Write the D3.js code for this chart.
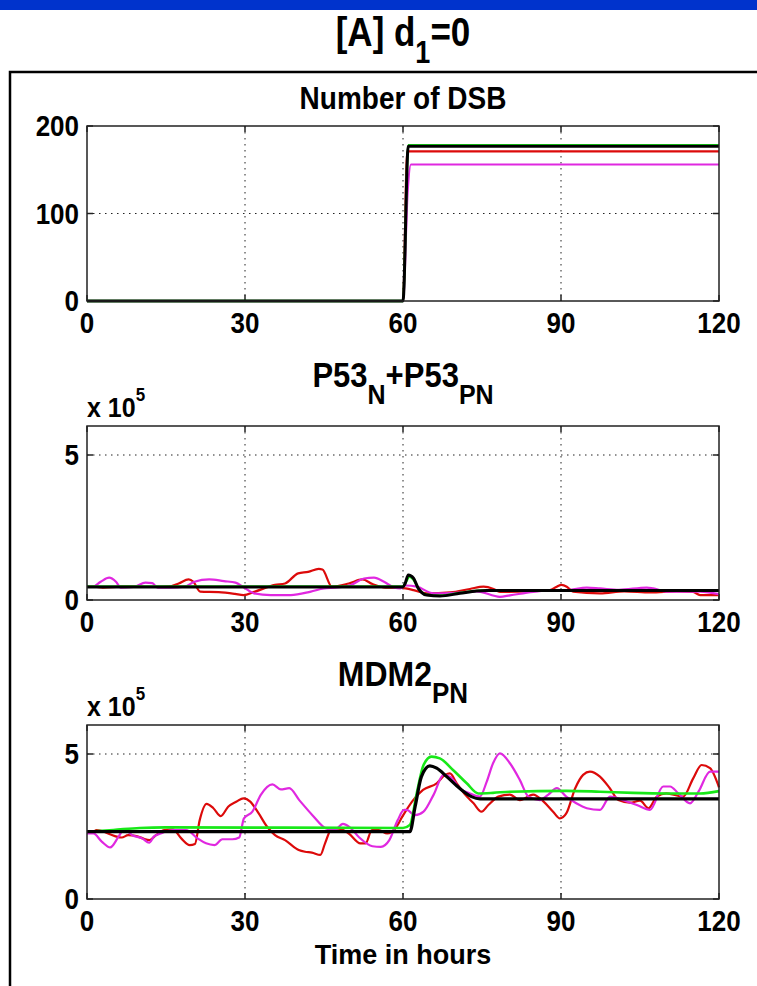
<!DOCTYPE html>
<html><head><meta charset="utf-8">
<script src="https://cdn.jsdelivr.net/npm/d3@7"></script>
<style>html,body{margin:0;padding:0;background:#fff;}svg{display:block;}</style>
</head><body>
<script>
// ---------- DATA ----------
const xTicks = [0, 30, 60, 90, 120];
const dsbTicks = [0, 100, 200];
const expTicks = [0, 5];

// Panel 1: Number of DSB
const dsbRedT = [0, 60, 60.8, 120];
const dsbRedV = [0, 0, 171, 171];
const dsbMagT = [0, 60, 60.9, 61.5, 120];
const dsbMagV = [0, 0, 127, 156, 156];
const dsbGreenT = [0, 60, 61, 120];
const dsbGreenV = [0, 0, 178, 178];
const dsbBlackT = [0, 60, 61, 120];
const dsbBlackV = [0, 0, 177, 177];

// Panel 2: P53_N + P53_PN (x 10^5)
const p53RedT = [0,1.5,3,6.5,9.6,12.5,15.5,17.4,19.3,20.2,21.5,25,28.1,29.7,31.9,35.7,37.6,40.1,42,44,44.7,46.5,49.7,52.3,54.2,56.7,59.6,60.5,62,64.5,69,72.7,75.3,77.2,78.4,84,87.9,89.2,90.1,91.1,92.3,97.4,102,107,112,115.1,116.4,120];
const p53RedV = [0.46,0.46,0.43,0.46,0.46,0.45,0.46,0.57,0.71,0.63,0.29,0.27,0.21,0.17,0.29,0.52,0.57,0.92,0.97,1.07,1.05,0.46,0.57,0.71,0.55,0.43,0.43,0.4,0.34,0.23,0.26,0.38,0.46,0.38,0.28,0.3,0.34,0.46,0.52,0.46,0.29,0.23,0.3,0.26,0.3,0.28,0.17,0.17];
const p53MagT = [0,1.1,2.6,4.2,5.5,6.4,8.9,11.1,12.4,13.4,15.9,18.5,20.4,23.2,26,28.2,29.8,31.7,34.9,38.7,42.5,45,47.6,50.1,52.6,54.5,56.4,58.3,59.5,60.5,62.6,65.8,70,74,78.4,80.3,84.7,87.9,91,94.9,97.4,101,106.3,107.5,110,116.4,120];
const p53MagV = [0.46,0.46,0.63,0.77,0.63,0.43,0.45,0.6,0.58,0.43,0.43,0.46,0.63,0.71,0.65,0.6,0.43,0.23,0.17,0.17,0.29,0.4,0.43,0.52,0.74,0.77,0.63,0.43,0.4,0.5,0.46,0.23,0.25,0.3,0.11,0.16,0.28,0.34,0.34,0.43,0.4,0.35,0.43,0.4,0.29,0.29,0.2];
const p53GreenT = [0,60,60.5,61.2,62,63,64.5,67,71,75,120];
const p53GreenV = [0.47,0.47,0.6,0.8,0.7,0.38,0.18,0.15,0.25,0.33,0.34];
const p53BlackT = [0,60,60.4,61,62,62.9,64.5,67,70.8,74,75.9,120];
const p53BlackV = [0.45,0.45,0.57,0.86,0.75,0.4,0.17,0.14,0.23,0.31,0.33,0.33];

// Panel 3: MDM2_PN (x 10^5)
const mdmRedT = [0,1.2,1.8,5.3,6.6,7.8,9.4,10.6,11.9,13.1,14.7,16.3,17.9,19.5,20.5,21.4,22.7,24,25.4,26.8,28.4,29.7,31,32.6,34.2,35.7,37.6,40.2,41.4,42.7,44.3,45.2,46.5,47.8,49.7,51.9,52.9,54.1,55.4,57,58.6,59.9,61.9,63.8,66.4,68,68.9,70.2,71.8,73.4,74.9,76.2,78.1,80.3,82.2,84.7,86.7,88.5,89.8,91,92.7,94.2,95.5,97.4,99.3,100.9,103.1,105,106.6,108.2,110,113.2,115.1,116.7,118.3,120];
const mdmRedV = [2.32,2.32,2.38,2.17,2.12,2.2,2.17,2.09,2.03,2.2,2.38,2.4,2.09,1.86,1.9,2.72,3.28,3.13,2.86,3.18,3.36,3.47,3.36,2.95,2.49,2.2,2.03,1.69,1.63,1.6,1.52,1.92,2.43,2.43,2.26,1.92,1.92,2.38,2.38,2.26,2.45,2.85,3.4,3.76,3.99,4.28,4.33,3.99,3.6,3.3,3.01,3.24,3.53,3.6,3.41,3.6,3.36,3.01,2.78,2.95,3.82,4.28,4.39,4.22,3.81,3.41,3.32,3.39,3.13,3.53,3.64,3.53,4.16,4.62,4.51,3.85];
const mdmMagT = [0,1.2,2.8,4.4,6,7,8.6,10.5,11.8,12.7,14,16.3,18.8,21,22.6,24.2,25.7,27.6,28.9,29.8,31.4,33,35.2,36.8,38.4,40.3,42.8,45.4,47,48.6,49.8,51.7,54.2,55.8,57.4,59,60.2,60.7,62.3,63.9,65.8,67.7,68.9,70.8,72.7,74.6,75.9,77.1,78.4,80.3,82.2,83.8,86,87.6,89.2,91,92.9,94.9,97.4,99.3,102.5,104.4,106.9,109.4,110.7,112.3,114.5,116.1,118.3,120];
const mdmMagV = [2.26,2.26,1.98,1.78,2.15,2.4,2.2,2.09,1.94,2.15,2.26,2.38,2.38,2.09,1.92,1.86,2.06,2.06,2.12,2.78,3.01,3.59,3.95,3.78,3.82,3.41,2.89,2.43,2.38,2.59,2.49,2.12,1.82,1.8,2.03,2.72,3.07,3.07,2.89,3.01,3.59,4.28,4.22,3.81,3.64,3.53,4.05,4.68,5.02,4.68,4.1,3.53,3.41,3.6,3.82,3.53,3.3,3.13,3.07,3.53,3.36,3.24,3.07,3.88,3.88,3.64,3.3,3.7,4.39,4.39];
const mdmGreenT = [0,5,10,15,60,61.3,62.6,63.9,65.4,67,69.5,72.1,74.3,77.1,80.3,91,97.4,103.7,110,116.4,120];
const mdmGreenV = [2.32,2.38,2.45,2.47,2.45,2.55,3.64,4.62,4.91,4.85,4.45,3.99,3.64,3.66,3.7,3.73,3.7,3.66,3.64,3.64,3.72];
const mdmBlackT = [0,61.3,62.3,63.5,65.1,66.4,68.3,70.8,73,74.6,75.5,120];
const mdmBlackV = [2.32,2.32,3.18,4.22,4.59,4.51,4.22,3.81,3.53,3.45,3.45,3.45];

// ---------- DRAW ----------
const W = 757, H = 986;
const FONT = "'Liberation Sans', Arial, Helvetica, sans-serif";
const C = {red: "#dc0a0a", mag: "#e028e0", green: "#18e818", black: "#000"};
const SY = 1.12; // vertical stretch of the lettering

const svg = d3.select("body").append("svg").attr("width", W).attr("height", H)
  .style("font-family", FONT).style("font-weight", "bold");

svg.append("rect").attr("x", 0).attr("y", 0).attr("width", W).attr("height", H).attr("fill", "#fff");
svg.append("rect").attr("x", 0).attr("y", 0).attr("width", W).attr("height", 10).attr("fill", "#0033cc");

// outer frame (extends beyond the picture right / bottom)
svg.append("path").attr("d", `M10,${H + 10} L10,72 L${W + 10},72`)
  .attr("fill", "none").attr("stroke", "#000").attr("stroke-width", 2.5);

// rich text helper: parts = [[text, size, dy]]
function richText(g, x, y, parts, anchor, sy) {
  const t = g.append("text").attr("transform", `translate(${x},${y}) scale(1,${sy || SY})`)
    .attr("text-anchor", anchor || "middle").attr("fill", "#000");
  parts.forEach(p => t.append("tspan").text(p[0]).attr("font-size", p[1]).attr("dy", p[2] || 0));
  return t;
}

// main title
richText(svg, 403, 46, [["[A] d", 35], ["1", 27, 14], ["=0", 35, -14]], "middle", 1.18);

const x = d3.scaleLinear().domain([0, 120]).range([87, 719]);

function panel(top, bottom, ymax, yTicks, title, seriesList, expLabel) {
  const y = d3.scaleLinear().domain([0, ymax]).range([bottom, top]);
  const g = svg.append("g");
  // grid
  g.selectAll(".gx").data(xTicks.slice(1, -1)).join("line")
    .attr("x1", d => x(d)).attr("x2", d => x(d)).attr("y1", top).attr("y2", bottom)
    .attr("stroke", "#222").attr("stroke-width", 1).attr("stroke-dasharray", "1.5,4.5");
  g.selectAll(".gy").data(yTicks.filter(v => v > 0 && v < ymax)).join("line")
    .attr("x1", x(0)).attr("x2", x(120)).attr("y1", d => y(d)).attr("y2", d => y(d))
    .attr("stroke", "#222").attr("stroke-width", 1).attr("stroke-dasharray", "1.5,4.5");
  // ticks (inside, all four sides)
  const tl = 6;
  xTicks.forEach(v => {
    g.append("line").attr("x1", x(v)).attr("x2", x(v)).attr("y1", bottom).attr("y2", bottom - tl).attr("stroke", "#222").attr("stroke-width", 1.5);
    g.append("line").attr("x1", x(v)).attr("x2", x(v)).attr("y1", top).attr("y2", top + tl).attr("stroke", "#222").attr("stroke-width", 1.5);
  });
  yTicks.forEach(v => {
    g.append("line").attr("x1", x(0)).attr("x2", x(0) + tl).attr("y1", y(v)).attr("y2", y(v)).attr("stroke", "#222").attr("stroke-width", 1.5);
    g.append("line").attr("x1", x(120)).attr("x2", x(120) - tl).attr("y1", y(v)).attr("y2", y(v)).attr("stroke", "#222").attr("stroke-width", 1.5);
  });
  // series
  const line = d3.line().x(d => x(d[0])).y(d => y(d[1])).curve(d3.curveMonotoneX);
  seriesList.forEach(s => {
    const pts = s.t.map((t, i) => [t, s.v[i]]);
    g.append("path").attr("d", line(pts)).attr("fill", "none")
      .attr("stroke", s.color).attr("stroke-width", s.w).attr("stroke-linejoin", "round");
  });
  // box
  g.append("rect").attr("x", x(0)).attr("y", top).attr("width", x(120) - x(0)).attr("height", bottom - top)
    .attr("fill", "none").attr("stroke", "#222").attr("stroke-width", 1.5);
  // tick labels
  xTicks.forEach(v => richText(g, x(v), bottom + 32, [[String(v), 26]]));
  yTicks.forEach(v => richText(g, 79, y(v) + 10, [[String(v), 26]], "end"));
  // title
  richText(g, 403, title.y, title.parts);
  if (expLabel) {
    richText(g, 87, top - 9, [["x 10", 25], ["5", 17, -14]], "start");
  }
  return g;
}

panel(126, 301, 200, dsbTicks, {y: 109, parts: [["Number of DSB", 28]]}, [
  {t: dsbRedT, v: dsbRedV, color: C.red, w: 2.2},
  {t: dsbMagT, v: dsbMagV, color: C.mag, w: 2.2},
  {t: dsbGreenT, v: dsbGreenV, color: C.green, w: 2.4},
  {t: dsbBlackT, v: dsbBlackV, color: C.black, w: 3}
]);

panel(426, 600, 6, expTicks, {y: 387, parts: [["P53", 31], ["N", 25, 15], ["+P53", 31, -15], ["PN", 25, 15]]}, [
  {t: p53RedT, v: p53RedV, color: C.red, w: 2.2},
  {t: p53MagT, v: p53MagV, color: C.mag, w: 2.2},
  {t: p53GreenT, v: p53GreenV, color: C.green, w: 2.4},
  {t: p53BlackT, v: p53BlackV, color: C.black, w: 3}
], true);

panel(725, 899, 6, expTicks, {y: 686, parts: [["MDM2", 32], ["PN", 26, 15]]}, [
  {t: mdmRedT, v: mdmRedV, color: C.red, w: 2.2},
  {t: mdmMagT, v: mdmMagV, color: C.mag, w: 2.2},
  {t: mdmGreenT, v: mdmGreenV, color: C.green, w: 2.6},
  {t: mdmBlackT, v: mdmBlackV, color: C.black, w: 3.2}
], true);

richText(svg, 403, 964, [["Time in hours", 27]], "middle", 1.0);
</script>
</body></html>
